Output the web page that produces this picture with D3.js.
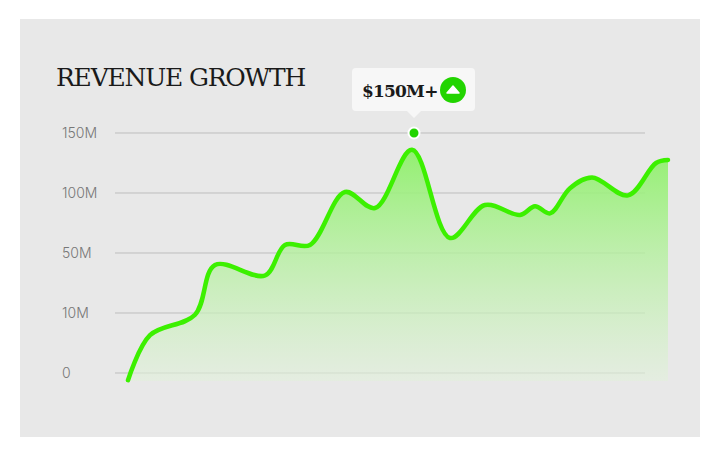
<!DOCTYPE html><html><head><meta charset="utf-8">
<script src="https://cdn.jsdelivr.net/npm/d3@7"></script>
<style>body{margin:0;background:#fff}svg{display:block}</style></head><body>
<script>
const tickLabels=["0","10M","50M","100M","150M"];
const tickValues=[0,10,50,100,150];
const xs=[0,22,67,87,137,157,182,217,247,284,322,357,392,407,422,442,464,500,528,540];
const values=[-1.2,6.3,9.7,42,35,56.7,56.7,100.8,87.5,136,62.5,90,81.7,89,83,104,113,98,125,127.5];
const data=xs.map((x,i)=>({x,v:values[i]}));
const W=720,H=456;
const svg=d3.select("body").append("svg").attr("width",W).attr("height",H);
svg.append("rect").attr("x",20).attr("y",19).attr("width",680).attr("height",418).attr("fill","#e8e8e8");
const x=d3.scaleLinear().domain([0,540]).range([128,668]);
const y=d3.scaleLinear().domain(tickValues).range([373,313,253,193,133]);
const defs=svg.append("defs");
const g=defs.append("linearGradient").attr("id","ag").attr("x1",0).attr("y1",0).attr("x2",0).attr("y2",1);
g.append("stop").attr("offset","0%").attr("stop-color","#8ef06a").attr("stop-opacity",0.95);
g.append("stop").attr("offset","100%").attr("stop-color","#e2f0dc").attr("stop-opacity",0.6);
const gridG=svg.append("g");
tickValues.forEach((t,i)=>{
  gridG.append("line").attr("x1",115).attr("x2",645).attr("y1",y(t)).attr("y2",y(t)).attr("stroke","#bdbdbd").attr("stroke-width",1);
  gridG.append("text").attr("x",62).attr("y",y(t)+5).text(tickLabels[i]).attr("font-family","Inter, sans-serif").attr("font-weight",300).attr("font-size",14).attr("fill","#777");
});
const curve=d3.curveCatmullRom.alpha(0.5);
svg.append("path").datum(data).attr("d",d3.area().x(d=>x(d.x)).y0(381).y1(d=>y(d.v)).curve(curve)).attr("fill","url(#ag)");
svg.append("path").datum(data).attr("d",d3.line().x(d=>x(d.x)).y(d=>y(d.v)).curve(curve)).attr("fill","none").attr("stroke","#3cf000").attr("stroke-width",4.5).attr("stroke-linecap","round");
svg.append("text").attr("x",56).attr("y",86).text("REVENUE GROWTH").attr("font-family","DejaVu Serif, serif").attr("font-size",25).attr("fill","#1a1a1a").attr("letter-spacing",-1.2);
const tx=352,ty=68;
svg.append("rect").attr("x",tx).attr("y",ty).attr("width",123).attr("height",43).attr("rx",4).attr("fill","#f7f7f7");
svg.append("path").attr("d",`M${x(286)-7},${ty+43} L${x(286)},${ty+50} L${x(286)+7},${ty+43}Z`).attr("fill","#f7f7f7");
svg.append("text").attr("x",362).attr("y",97).text("$150M+").attr("font-family","DejaVu Serif, serif").attr("font-weight","bold").attr("font-size",17).attr("letter-spacing",-0.8).attr("fill","#1a1a1a");
svg.append("circle").attr("cx",453).attr("cy",90).attr("r",13).attr("fill","#22d400");
svg.append("path").attr("d","M447,93 L453,86 L459,93Z").attr("fill","#fff").attr("stroke","#fff").attr("stroke-linejoin","round").attr("stroke-width",1.5);
svg.append("circle").attr("cx",x(286)).attr("cy",y(150)).attr("r",5.5).attr("fill","#22d400").attr("stroke","#fff").attr("stroke-width",2);
</script></body></html>
